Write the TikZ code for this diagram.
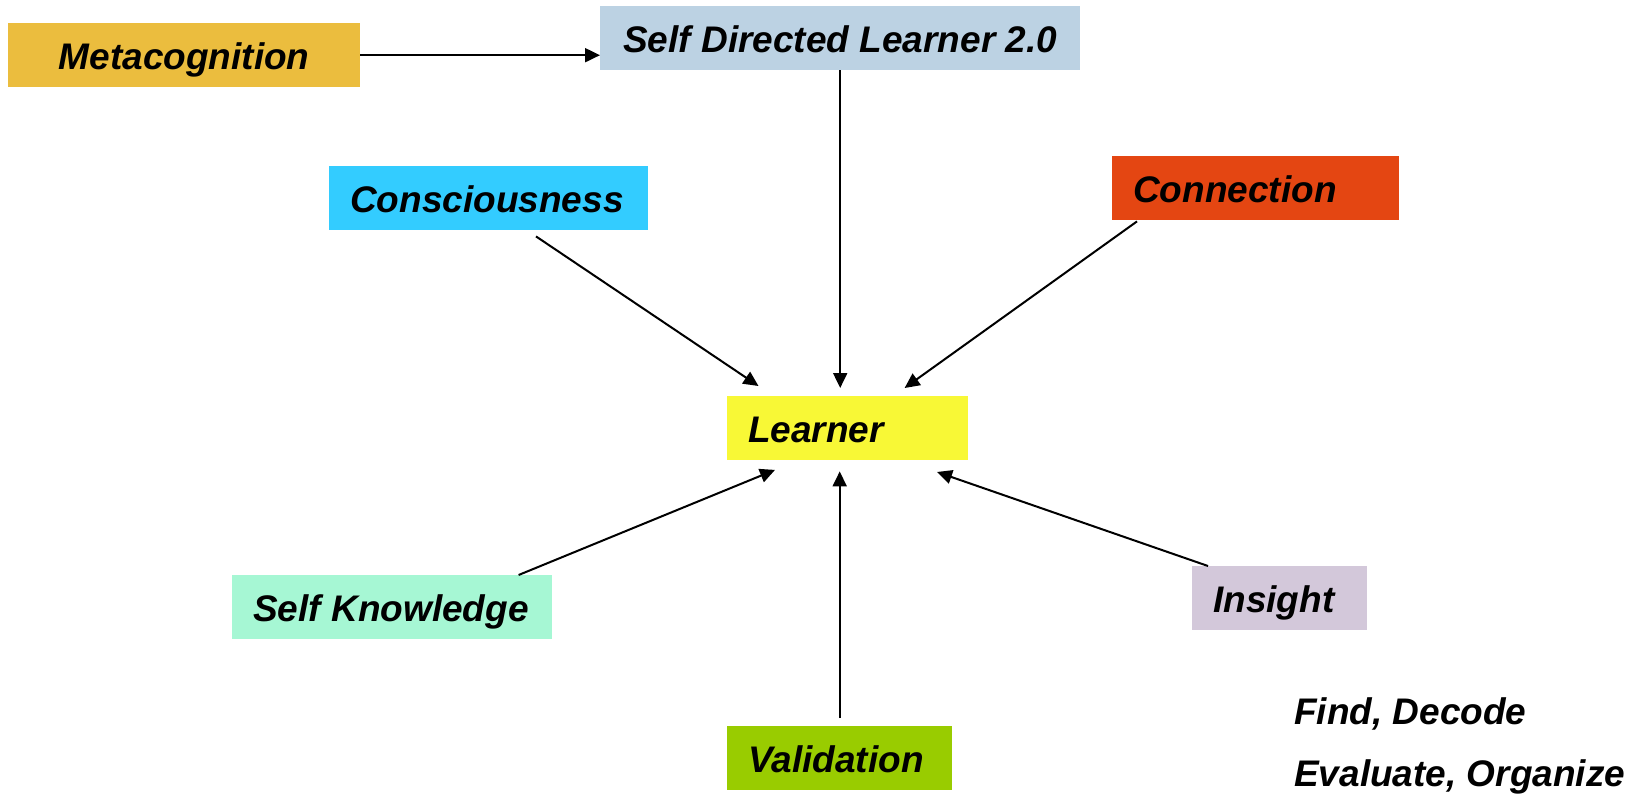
\documentclass[tikz,border=0pt]{standalone}
\usepackage{fontspec}
\setmainfont{Liberation Sans}
\usetikzlibrary{arrows.meta,calc}
\definecolor{cMeta}{RGB}{235,189,62}
\definecolor{cSdl}{RGB}{188,210,227}
\definecolor{cCons}{RGB}{51,204,255}
\definecolor{cConn}{RGB}{228,70,18}
\definecolor{cLearn}{RGB}{248,248,54}
\definecolor{cSk}{RGB}{166,247,212}
\definecolor{cIns}{RGB}{211,200,218}
\definecolor{cVal}{RGB}{153,204,0}
\tikzset{
  box/.style={draw=none, inner xsep=21pt, inner ysep=0pt, minimum height=64pt,
    anchor=north west, text height=28pt, text depth=0pt,
    font=\fontsize{37}{44}\selectfont\bfseries\itshape},
  free/.style={inner sep=0pt, anchor=base west,
    font=\fontsize{37}{44}\selectfont\bfseries\itshape},
  conn/.style={line width=2pt, -{Triangle[length=15pt,width=14pt]}}
}
\begin{document}
\begin{tikzpicture}[x=1pt,y=-1pt]
\useasboundingbox (0,0) rectangle (1636,797);
\node[box, fill=cMeta] (meta) at (8,23) {\makebox[310pt][c]{Metacognition}};
\node[box, fill=cSdl] (sdl) at (600,6) {\makebox[438pt][c]{Self Directed Learner 2.0}};
\node[box, fill=cCons] (cons) at (329,166) {\makebox[277pt][l]{Consciousness}};
\node[box, fill=cConn] (conn) at (1112,156) {\makebox[245pt][l]{Connection}};
\node[box, fill=cLearn] (learner) at (727,396) {\makebox[199pt][l]{Learner}};
\node[box, fill=cSk] (sk) at (232,575) {\makebox[278pt][l]{Self Knowledge}};
\node[box, fill=cIns] (ins) at (1192,566) {\makebox[133pt][l]{Insight}};
\node[box, fill=cVal] (val) at (727,726) {\makebox[183pt][l]{Validation}};
\node[free] (fd) at (1294,724) {Find, Decode};
\node[free] (eo) at (1294,786) {Evaluate, Organize};

\draw[conn] (meta.east) -- (meta.east -| sdl.west);
\draw[conn, shorten >=8pt] (sdl.south) -- (sdl.south |- learner.north);
\draw[conn] ($(cons.south west)+(207,6)$) -- ($(learner.north west)+(31.5,-10)$);
\draw[conn] ($(conn.south west)+(25,1)$) -- ($(learner.north west)+(177.6,-8)$);
\draw[conn] ($(sk.north west)+(286.6,0)$) -- ($(learner.south west)+(48,9.5)$);
\draw[conn, shorten <=8pt, shorten >=11pt] (val.north) -- (val.north |- learner.south);
\draw[conn] ($(ins.north west)+(16,0)$) -- ($(learner.south west)+(210,11.6)$);
\end{tikzpicture}
\end{document}
